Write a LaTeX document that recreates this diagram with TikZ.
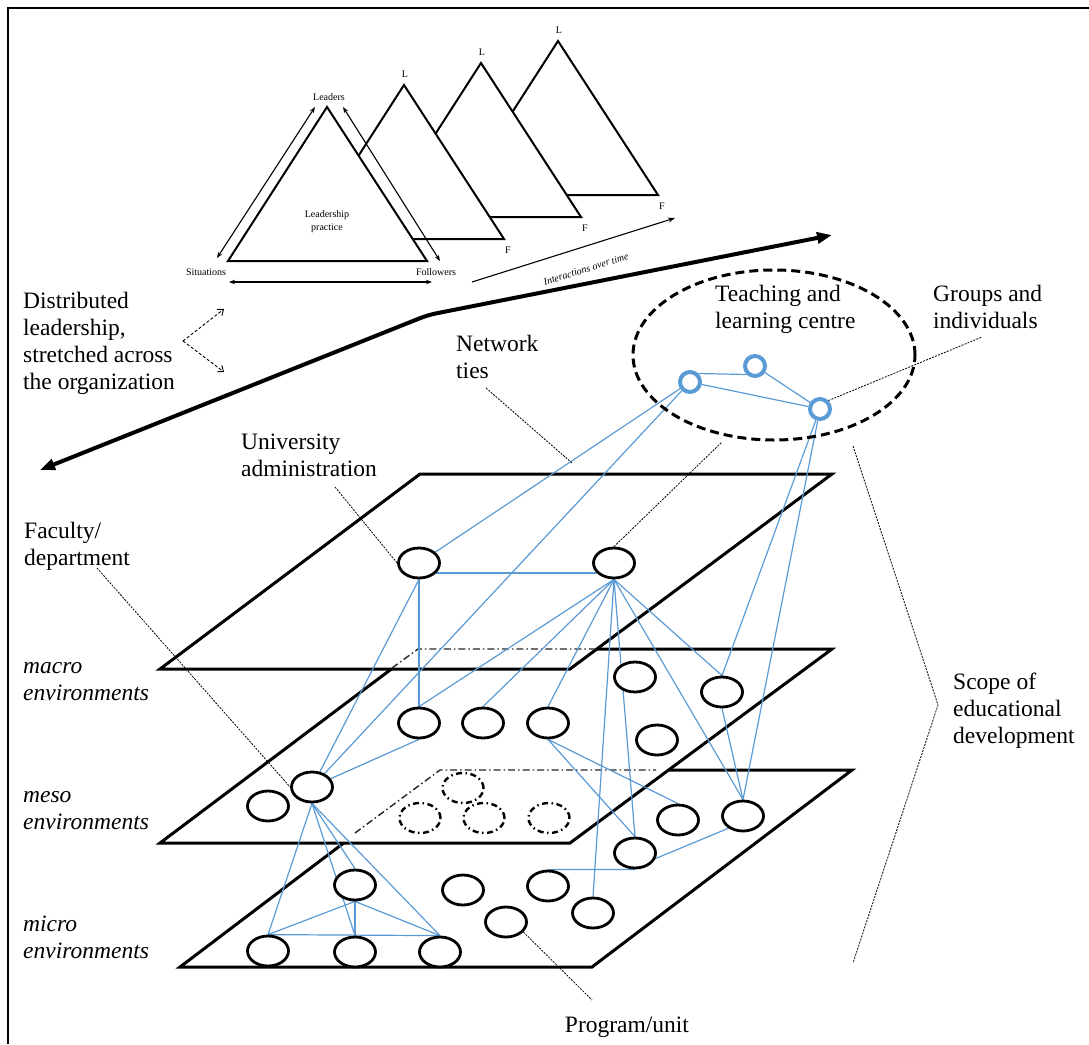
\documentclass[tikz,border=0pt]{standalone}
\usepackage{fontspec}
\setmainfont{Liberation Serif}
\usetikzlibrary{arrows.meta,shapes.geometric}
\definecolor{tieblue}{HTML}{5B9BD5}
\pgfdeclarelayer{back}
\pgfdeclarelayer{ties}
\pgfsetlayers{back,ties,main}

\begin{document}
\begin{tikzpicture}[x=1pt,y=-1pt,
  plane/.style={fill=white,draw=black,line width=3pt,line join=miter},
  hidden/.style={draw=black!85,line width=1.4pt,dash pattern=on 7pt off 3pt on 1.5pt off 3pt},
  unit/.style={ellipse,draw=black,fill=white,line width=2.8pt,minimum width=41pt,minimum height=30pt,inner sep=0pt},
  ghost/.style={unit,fill=none,line width=2.4pt,dash pattern=on 6pt off 3.5pt on 1.5pt off 3.5pt},
  member/.style={circle,draw=tieblue,fill=white,line width=4pt,minimum size=20pt,inner sep=0pt},
  tie/.style={draw=tieblue,line width=1.2pt},
  leader/.style={draw=black,line width=0.8pt,dash pattern=on 2pt off 1.2pt},
  big/.style={font=\fontsize{23.5}{27}\selectfont,align=left,inner sep=0pt,anchor=north west},
  bigit/.style={big,font=\itshape\fontsize{23.5}{27}\selectfont},
  small/.style={font=\fontsize{10}{13}\selectfont,inner sep=0pt,align=center},
  tri/.style={fill=white,draw=black,line width=2pt,line join=miter},
  twoway/.style={line width=1.1pt,{Stealth[length=6pt,width=4.5pt]}-{Stealth[length=6pt,width=4.5pt]}},
]
\useasboundingbox (0,0) rectangle (1089,1044);
% frame: only the top and left sides fall inside the page
\draw[line width=2.8pt] (8,1044) -- (8,8) -- (1089,8);

% ---- leadership triangles, back to front ----
\foreach \k in {3,2,1,0}{
  \draw[tri] ({327+77*\k},{107-22*\k}) -- ({427+77*\k},{261-22*\k}) -- ({228+77*\k},{261-22*\k}) -- cycle;
}
\foreach \k/\nm in {1/a,2/b,3/c}{
  \node[small] (L\nm) at ({328+77*\k},{96-22*\k}) {L};
  \node[small] (F\nm) at ({431+77*\k},{272-22*\k}) {F};
}
\node[small] (leaders) at (329,97) {Leaders};
\node[small] (situations) at (206,272) {Situations};
\node[small] (followers) at (436,272) {Followers};
\node[small] (practice) at (327,222) {Leadership\\practice};
\coordinate (sl1) at (217,258); \coordinate (sl2) at (315,107);
\coordinate (sr1) at (343,107); \coordinate (sr2) at (440,261);
\coordinate (sb1) at (229,282); \coordinate (sb2) at (432,282);
\draw[twoway] (sl1) -- (sl2);
\draw[twoway] (sr1) -- (sr2);
\draw[twoway] (sb1) -- (sb2);
\coordinate (time1) at (472,282); \coordinate (time2) at (675,218);
\draw[line width=1.1pt,-{Stealth[length=7pt,width=5pt]}] (time1) -- (time2);
\node[small,font=\itshape\fontsize{10}{12}\selectfont,rotate=17.5] (timelab) at (586,269) {Interactions over time};

% ---- stretch arrow across the organization ----
\coordinate (span1) at (40,470); \coordinate (spank) at (428,315); \coordinate (span2) at (832,235);
\draw[line width=4pt,rounded corners=8pt,{Triangle[length=15pt,width=11pt]}-{Triangle[length=15pt,width=11pt]}] (span1) -- (spank) -- (span2);
\coordinate (dfrom) at (183,341); \coordinate (dup) at (224,309); \coordinate (ddown) at (224,372);
\draw[line width=0.9pt,dash pattern=on 3pt off 2pt,-{Straight Barb[length=5pt,width=8pt]}] (dfrom) -- (dup);
\draw[line width=0.9pt,dash pattern=on 3pt off 2pt,-{Straight Barb[length=5pt,width=8pt]}] (dfrom) -- (ddown);

% ---- environment planes ----
\begin{pgfonlayer}{back}
\draw[plane] (440,770) -- (852,770) -- (592,967) -- (180,967) -- cycle;
\draw[plane] (418,649) -- (832,649) -- (570,843) -- (160,843) -- cycle;
\draw[plane] (420,474) -- (832,474) -- (570,669) -- (160,669) -- cycle;
\draw[hidden] (392,668) -- (418,649) -- (596,649);
\draw[hidden] (355,833) -- (440,770) -- (656,770);
\end{pgfonlayer}

% ---- units on each plane ----
\node[unit] (U1) at (419,563) {};
\node[unit] (U2) at (614,563) {};
\node[unit] (M1) at (419,723) {};
\node[unit] (M2) at (483,723) {};
\node[unit] (M3) at (548,723) {};
\node[unit] (M4) at (635,677) {};
\node[unit] (M5) at (722,692) {};
\node[unit] (M6) at (657,740) {};
\node[unit] (F0) at (268,806) {};
\node[unit] (F1) at (312,787) {};
\node[ghost] (D1) at (463,788) {};
\node[ghost] (D2) at (420,818) {};
\node[ghost] (D3) at (484,818) {};
\node[ghost] (D4) at (549,818) {};
\node[unit] (m1) at (268,951) {};
\node[unit] (m3) at (355,952) {};
\node[unit] (m5) at (440,952) {};
\node[unit] (m4) at (355,885) {};
\node[unit] (n2) at (463,890) {};
\node[unit] (n3) at (548,886) {};
\node[unit] (n4) at (506,922) {};
\node[unit] (n5) at (593,913) {};
\node[unit] (n6) at (635,853) {};
\node[unit] (n8) at (678,820) {};
\node[unit] (n7) at (743,816) {};

% ---- teaching and learning centre ----
\node[draw=black,line width=3pt,dash pattern=on 9pt off 5pt,ellipse,minimum width=282pt,minimum height=170pt,inner sep=0pt] (tlc) at (774,355) {};
\node[member] (A) at (690,382) {};
\node[member] (B) at (755,366) {};
\node[member] (C) at (820,409) {};

% ---- network ties ----
\begin{pgfonlayer}{ties}
\draw[tie] (A) -- (U1);
\draw[tie] (A) -- (F1);
\draw[tie] (A.north east) -- (B.south west);
\draw[tie] (A) -- (C);
\draw[tie] (B) -- (C);
\draw[tie] (C) -- (M5.north);
\draw[tie] (C) -- (n7.north);
\draw[tie] (U1.-30) -- (U2.210);
\draw[tie] (U1.south) -- (M1.north);
\draw[tie] (U1.south) -- (F1);
\foreach \t in {M1,M2,M3,n5,n6,n7,M5}{\draw[tie] (U2.south) -- (\t.north);}
\draw[tie] (M1.south) -- (F1);
\draw[tie] (M5.south) -- (n7.north);
\draw[tie] (M3.south) -- (n6.north);
\draw[tie] (M3.south) -- (n8.north);
\draw[tie] (n6.-15) -- (n7.220);
\draw[tie] (n3.north) -- (n6.south);
\foreach \t in {m1,m4,m3,m5}{\draw[tie] (F1.south) -- (\t.north);}
\foreach \t in {m1,m3,m5}{\draw[tie] (m4.south) -- (\t.north);}
\draw[tie] (m1.north) -- (m5.north);
\end{pgfonlayer}

% ---- label leaders ----
\coordinate (univtip) at (335,487);
\coordinate (nettip) at (486,388); \coordinate (netend) at (572,463);
\coordinate (centretip) at (722,442);
\coordinate (grouptip) at (982,337);
\coordinate (factip) at (97,568);
\coordinate (progtip) at (592,1000);
\coordinate (scope1) at (853,446); \coordinate (scope2) at (938,705); \coordinate (scope3) at (853,963);
\draw[leader] (univtip) -- (U1.west);
\draw[leader] (nettip) -- (netend);
\draw[leader] (U2.north) -- (centretip);
\draw[leader] (C.north east) -- (grouptip);
\draw[leader] (factip) -- (F1.west);
\draw[leader] (n4.-30) -- (progtip);
\draw[leader] (scope1) -- (scope2) -- (scope3);

% ---- text ----
\node[big] (distlab) at (23,291) {\rule{0pt}{17pt}Distributed\\leadership,\\stretched across\\the organization};
\node[big] (univlab) at (241,432) {\rule{0pt}{17pt}University\\administration};
\node[big] (netlab) at (456,334) {\rule{0pt}{17pt}Network\\ties};
\node[big] (tlclab) at (715,284) {\rule{0pt}{17pt}Teaching and\\learning centre};
\node[big] (grplab) at (933,284) {\rule{0pt}{17pt}Groups and\\individuals};
\node[big] (faclab) at (24,521) {\rule{0pt}{17pt}Faculty/\\department};
\node[bigit] (macrolab) at (23,656) {\rule{0pt}{17pt}macro\\environments};
\node[bigit] (mesolab) at (23,785) {\rule{0pt}{17pt}meso\\environments};
\node[bigit] (microlab) at (23,914) {\rule{0pt}{17pt}micro\\environments};
\node[big] (scopelab) at (953,672) {\rule{0pt}{17pt}Scope of\\educational\\development};
\node[big,anchor=base] (proglab) at (627,1032) {Program/unit};
\end{tikzpicture}
\end{document}
